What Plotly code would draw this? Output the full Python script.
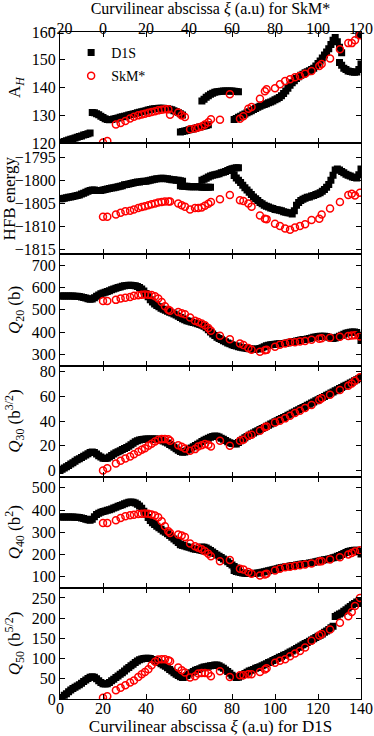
import plotly.graph_objects as go
from plotly.subplots import make_subplots


# =====================================================================
# 1. DATA
# =====================================================================

def grid(start, stop):
    """Integer abscissa samples from start to stop, both included."""
    return list(range(start, stop + 1))


# D1S abscissa for the panels where the path is one continuous band
XI_D1S = grid(0, 140)

# A_H for D1S -- the path breaks into pieces that overlap in xi
AH_D1S_X = (grid(0, 14) + grid(15, 57) + grid(56, 69) + grid(66, 83)
            + grid(81, 131) + grid(130, 140) + grid(139, 140))
AH_D1S = [
    120.0, 120.3, 120.6, 120.9, 121.1, 121.4, 121.6, 121.9, 122.1, 122.4, 122.6, 122.9, 123.1, 123.4, 123.7,
    131.0, 130.9, 130.6, 130.2, 129.7, 129.2, 128.8, 128.5, 128.4, 128.5, 128.7, 128.9, 129.1, 129.3, 129.5,
    129.7, 129.9, 130.1, 130.3, 130.5, 130.7, 130.9, 131.1, 131.3, 131.5, 131.7, 131.9, 132.1, 132.3, 132.4,
    132.5, 132.6, 132.6, 132.6, 132.5, 132.4, 132.2, 132.0, 131.7, 131.4, 131.0, 130.6, 130.1,
    124.0, 124.2, 124.4, 124.6, 124.8, 125.0, 125.2, 125.4, 125.6, 125.8, 126.0, 126.2, 126.4, 126.6,
    135.2, 135.8, 136.5, 137.1, 137.6, 138.0, 138.3, 138.5, 138.6, 138.7, 138.8, 138.8, 138.8, 138.8, 138.8,
    138.7, 138.6, 138.5,
    128.5, 128.9, 129.3, 129.7, 130.1, 130.5, 130.9, 131.3, 131.7, 132.1, 132.5, 132.9, 133.3, 133.6, 133.9,
    134.2, 134.5, 134.8, 135.2, 135.6, 136.0, 136.4, 137.1, 137.9, 138.8, 139.8, 140.8, 141.7, 142.5, 143.3,
    143.9, 144.4, 144.8, 145.3, 145.7, 146.1, 146.5, 147.0, 147.8, 148.7, 149.6, 150.6, 151.7, 152.8, 154.0,
    155.5, 157.0, 158.0, 156.5, 154.5, 152.5,
    149.0, 148.0, 147.0, 146.5, 146.0, 145.8, 145.6, 145.5, 145.6, 146.5, 148.5,
    159.0, 159.5,
]

HFB_D1S_X = grid(0, 57) + grid(56, 70) + grid(66, 83) + grid(81, 140)
HFB_D1S = [
    -1804.0, -1804.0, -1803.9, -1803.8, -1803.7, -1803.6, -1803.5, -1803.4, -1803.3, -1803.2,
    -1803.0, -1802.8, -1802.6, -1802.4, -1802.2, -1802.1, -1802.1, -1802.2, -1802.2, -1802.2,
    -1802.1, -1802.0, -1801.9, -1801.8, -1801.7, -1801.6, -1801.5, -1801.4, -1801.3, -1801.2,
    -1801.0, -1800.9, -1800.8, -1800.7, -1800.6, -1800.5, -1800.4, -1800.4, -1800.3, -1800.2,
    -1800.2, -1800.1, -1800.0, -1799.9, -1799.8, -1799.7, -1799.7, -1799.6, -1799.6, -1799.7,
    -1799.7, -1799.8, -1799.9, -1799.9, -1800.0, -1800.0, -1800.1, -1800.2,
    -1801.2, -1801.3, -1801.3, -1801.3, -1801.4, -1801.4, -1801.4, -1801.4, -1801.4, -1801.4,
    -1801.5, -1801.5, -1801.5, -1801.5, -1801.5,
    -1800.0, -1799.8, -1799.6, -1799.3, -1799.1, -1798.9, -1798.8, -1798.7, -1798.6, -1798.4,
    -1798.3, -1798.1, -1797.9, -1797.7, -1797.5, -1797.4, -1797.3, -1797.3,
    -1799.0, -1799.5, -1800.0, -1800.5, -1801.1, -1801.6, -1802.1, -1802.6, -1803.1, -1803.6,
    -1804.0, -1804.4, -1804.8, -1805.1, -1805.4, -1805.6, -1805.8, -1806.0, -1806.1, -1806.3,
    -1806.4, -1806.5, -1806.6, -1806.8, -1806.9, -1807.0, -1807.1, -1807.3, -1806.6, -1805.4,
    -1804.8, -1804.4, -1804.1, -1803.9, -1803.7, -1803.6, -1803.4, -1803.3, -1803.1, -1802.9,
    -1802.7, -1802.4, -1802.0, -1801.5, -1800.9, -1800.0, -1798.9, -1797.8, -1797.6, -1797.8,
    -1798.1, -1798.4, -1798.7, -1798.9, -1799.1, -1799.3, -1799.4, -1799.5, -1798.8, -1797.6,
]

Q20_D1S = [
    561, 561, 561, 561, 561, 561, 561, 560, 560, 559,
    557, 555, 552, 549, 547, 548, 553, 560, 566, 571,
    575, 578, 582, 585, 589, 593, 596, 599, 602, 605,
    607, 608, 609, 609, 608, 607, 604, 599, 593, 584,
    572, 558, 545, 534, 526, 519, 513, 507, 502, 497,
    493, 489, 485, 481, 476, 471, 465, 459, 455, 451,
    448, 445, 443, 440, 437, 434, 430, 426, 419, 410,
    400, 391, 384, 377, 371, 366, 361, 356, 351, 347,
    343, 340, 337, 334, 332, 330, 328, 326, 325, 324,
    323, 323, 324, 326, 330, 334, 338, 341, 343, 344,
    345, 346, 347, 348, 349, 350, 352, 354, 356, 358,
    360, 362, 364, 366, 367, 369, 371, 373, 376, 378,
    380, 381, 381, 381, 380, 377, 373, 371, 373, 377,
    381, 385, 390, 394, 397, 399, 400, 400, 398, 385,
    362,
]

Q30_D1S = [
    0.0, 1.0, 2.1, 3.1, 4.1, 5.2, 6.3, 7.5, 8.6, 9.6,
    10.6, 11.6, 12.6, 13.6, 14.5, 15.0, 14.6, 13.4, 12.0, 10.9,
    10.0, 9.7, 10.0, 11.0, 12.2, 13.3, 14.3, 15.2, 16.0, 16.9,
    17.8, 18.7, 19.7, 20.8, 22.0, 23.2, 24.1, 24.7, 25.1, 25.3,
    25.4, 25.5, 25.5, 25.5, 25.5, 25.4, 25.0, 24.4, 23.8, 23.1,
    22.2, 21.1, 20.0, 18.8, 17.6, 16.4, 15.3, 14.7, 14.9, 15.9,
    17.1, 18.2, 19.2, 20.2, 21.2, 22.3, 23.4, 24.4, 25.3, 26.2,
    27.0, 27.6, 27.9, 27.8, 27.2, 26.2, 25.2, 24.2, 23.2, 22.4,
    21.9, 21.6, 21.5, 22.6, 24.0, 25.3, 26.5, 27.6, 28.6, 29.5,
    30.4, 31.3, 32.2, 33.1, 34.0, 34.9, 35.8, 36.7, 37.6, 38.5,
    39.4, 40.3, 41.2, 42.0, 42.9, 43.8, 44.7, 45.6, 46.5, 47.4,
    48.3, 49.2, 50.1, 51.0, 51.9, 52.8, 53.7, 54.6, 55.5, 56.4,
    57.3, 58.2, 59.1, 60.0, 60.9, 61.8, 62.7, 63.6, 64.5, 65.4,
    66.3, 67.2, 68.1, 69.0, 69.9, 70.8, 71.7, 72.6, 73.5, 74.4,
    75.3,
]

Q40_D1S_X = grid(0, 57) + grid(56, 70) + grid(66, 83) + grid(81, 140)
Q40_D1S = [
    369, 369, 369, 369, 369, 369, 369, 368, 367, 366,
    364, 362, 359, 356, 354, 358, 370, 380, 386, 390,
    393, 396, 399, 401, 405, 409, 413, 417, 420, 424,
    428, 432, 435, 436, 435, 432, 426, 418, 408, 395,
    381, 366, 353, 343, 335, 327, 320, 313, 306, 300,
    293, 285, 278, 270, 262, 254, 246, 241,
    244, 241, 238, 235, 232, 229, 226, 224, 222, 220, 218, 216, 214, 212, 210,
    234, 232, 229, 224, 218, 211, 204, 198, 192, 186, 180, 174, 167, 160, 153, 146, 139, 133,
    128, 124, 121, 119, 117, 116, 115, 115, 115, 115,
    116, 117, 118, 120, 122, 125, 127, 129, 131, 134,
    136, 139, 141, 143, 145, 146, 148, 150, 151, 153,
    154, 156, 157, 159, 160, 162, 163, 165, 167, 170,
    172, 174, 176, 178, 180, 182, 185, 188, 192, 196,
    200, 205, 209, 213, 216, 218, 219, 219, 214, 202,
]

Q50_D1S = [
    0, 4, 9, 13, 18, 22, 26, 29, 32, 35,
    39, 43, 47, 51, 54, 55, 54, 50, 45, 41,
    38, 37, 38, 41, 45, 49, 53, 57, 61, 65,
    69, 74, 78, 82, 86, 90, 94, 97, 99, 100,
    101, 101, 100, 98, 96, 93, 90, 87, 84, 81,
    77, 73, 69, 65, 61, 58, 55, 53, 54, 58,
    62, 65, 68, 71, 73, 75, 77, 79, 80, 81,
    82, 83, 84, 84, 82, 79, 76, 72, 68, 64,
    59, 55, 53, 54, 57, 60, 63, 66, 69, 71,
    73, 76, 78, 80, 82, 85, 87, 90, 92, 95,
    98, 100, 103, 105, 108, 110, 113, 116, 119, 122,
    125, 128, 131, 134, 137, 140, 143, 146, 149, 152,
    155, 158, 161, 165, 168, 172, 176, 180, 204, 207,
    210, 213, 217, 221, 225, 229, 233, 236, 240, 242,
    236,
]

# SkM* points, abscissa on the top (SkM*) scale
SKM_OFFSET = 20  # top-axis -20 sits over bottom-axis 0
RED_XI_SKM = [
    0, 2, 6, 8.2, 10.4, 12.6, 14.4, 16.4, 18, 19.5,
    21.1, 22.6, 24.2, 25.7, 27.3, 28.8, 30.4, 31.2, 35, 36.6,
    38.1, 40.5, 42.8, 44.3, 45.9, 47.4, 49, 50.2, 54.4, 59,
    63.7, 65.3, 67.6, 69.1, 73, 75.3, 76.1, 80, 82.3, 84.7,
    87, 89.3, 91.6, 94, 97, 100.6, 101.7, 105.6, 110.2, 114.1,
    115.7, 117.2, 119.5,
]
AH_SKM = [
    120.2, 120.8, 126.7, 127.3, 128.0, 128.9, 129.5, 130.0, 130.3, 130.6,
    130.9, 131.2, 131.5, 131.8, 132.0, 132.2, 132.2, 130.2, 131.0, 130.0,
    129.4, 125.0, 125.3, 125.6, 126.0, 126.7, 127.5, 128.6, 128.4, 137.6,
    128.8, 129.7, 132.4, 133.0, 136.0, 138.7, 139.4, 139.8, 141.2, 142.4,
    143.0, 143.7, 144.2, 145.0, 146.0, 147.8, 148.5, 150.5, 153.8, 156.0,
    156.0, 157.0, 158.8,
]
HFB_SKM = [
    -1807.9, -1807.9, -1807.4, -1807.0, -1806.7, -1806.6, -1806.3, -1806.0, -1805.8, -1805.6,
    -1805.4, -1805.2, -1805.0, -1804.8, -1804.7, -1804.6, -1804.6, -1804.6, -1805.0, -1805.4,
    -1805.7, -1806.3, -1806.0, -1806.0, -1805.9, -1805.5, -1805.1, -1804.7, -1804.1, -1803.2,
    -1804.3, -1804.5, -1805.0, -1805.7, -1807.6, -1808.3, -1808.4, -1809.4, -1809.9, -1810.4,
    -1810.7, -1810.2, -1809.9, -1809.5, -1808.6, -1808.3, -1807.4, -1806.1, -1804.7, -1803.2,
    -1802.9, -1803.3, -1802.7,
]
Q20_SKM = [
    539, 539, 544, 550, 554, 557, 562, 565, 567, 568,
    567, 566, 560, 550, 535, 515, 500, 495, 490, 484,
    480, 465, 450, 445, 438, 430, 418, 406, 383, 368,
    349, 342, 328, 321, 312, 318, 320, 334, 343, 349,
    354, 354, 357, 360, 365, 370, 372, 374, 379, 382,
    384, 386, 380,
]
Q30_SKM = [
    0.0, 1.9, 5.7, 7.8, 9.7, 11.4, 13.2, 15.1, 16.8, 18.1,
    20.0, 21.6, 23.5, 24.9, 25.4, 25.4, 25.2, 24.0, 20.5, 19.2,
    17.8, 15.9, 17.3, 19.5, 20.5, 21.4, 20.8, 19.5, 24.0, 20.0,
    24.0, 24.9, 28.1, 28.9, 32.2, 35.0, 35.7, 38.9, 40.3, 42.2,
    44.3, 46.5, 48.4, 50.5, 53.0, 57.0, 58.4, 61.4, 65.1, 68.6,
    70.5, 72.7, 75.5,
]
Q40_SKM = [
    342, 342, 354, 364, 372, 376, 379, 382, 383, 384,
    383, 380, 375, 367, 349, 327, 305, 297, 290, 285,
    279, 249, 237, 230, 224, 215, 203, 192, 170, 175,
    136, 133, 121, 113, 106, 110, 113, 128, 136, 143,
    145, 148, 152, 155, 160, 168, 170, 178, 188, 200,
    207, 213, 219,
]
Q50_SKM = [
    3.3, 6.6, 21.5, 28.0, 34.0, 40.6, 46.0, 54.6, 61.0, 67.0,
    73.7, 83.6, 92.0, 97.7, 98.5, 98.5, 96.0, 93.5, 78.0, 71.0,
    65.4, 53.0, 56.0, 63.0, 64.6, 64.6, 63.0, 56.0, 68.7, 54.6,
    58.8, 59.0, 61.0, 61.0, 67.0, 73.0, 76.0, 89.4, 94.4, 98.5,
    106.0, 112.6, 119.0, 127.5, 144.0, 157.0, 160.6, 172.0, 188.7, 205.0,
    215.0, 230.0, 250.0,
]

# panel titles, y ranges and y tick values (top to bottom)
Y_TITLES = [
    "A<sub><i>H</i></sub>",
    "HFB energy",
    "<i>Q</i><sub>20</sub> (b)",
    "<i>Q</i><sub>30</sub> (b<sup>3/2</sup>)",
    "<i>Q</i><sub>40</sub> (b<sup>2</sup>)",
    "<i>Q</i><sub>50</sub> (b<sup>5/2</sup>)",
]
Y_RANGES = [[120, 160], [-1816, -1792], [250, 748], [-5, 85], [50, 550], [0, 275]]
Y_TICKS = [
    [120, 130, 140, 150, 160],
    [-1815, -1810, -1805, -1800, -1795],
    [300, 400, 500, 600, 700],
    [0, 20, 40, 60, 80],
    [100, 200, 300, 400, 500],
    [0, 50, 100, 150, 200, 250],
]
X_TICKS_D1S = [0, 20, 40, 60, 80, 100, 120, 140]
X_TICKS_SKM = [-20, 0, 20, 40, 60, 80, 100, 120]

FONT = "Liberation Serif"
RED = "#ff0000"


# =====================================================================
# 2. FIGURE
# =====================================================================

def axis_style():
    """Boxed axes with inward ticks on every side."""
    return dict(
        showline=True, linecolor="black", linewidth=1, mirror="ticks",
        ticks="inside", ticklen=5, tickcolor="black", tickwidth=1,
        showgrid=False, zeroline=False, automargin=False,
        tickfont=dict(family=FONT, size=16, color="black"),
    )


def title_font(size=17):
    return dict(family=FONT, size=size, color="black")


def build_figure() -> go.Figure:
    fig = make_subplots(rows=6, cols=1, shared_xaxes=True, vertical_spacing=0)

    d1s_x = [AH_D1S_X, HFB_D1S_X, XI_D1S, XI_D1S, Q40_D1S_X, XI_D1S]
    d1s_y = [AH_D1S, HFB_D1S, Q20_D1S, Q30_D1S, Q40_D1S, Q50_D1S]
    skm_y = [AH_SKM, HFB_SKM, Q20_SKM, Q30_SKM, Q40_SKM, Q50_SKM]
    # lower panels have no SkM* axis of their own: move onto the D1S scale
    red_x_shifted = [xi + SKM_OFFSET for xi in RED_XI_SKM]
    # gap between tick labels and y title, so that the titles line up as in the original
    standoffs = [6, 0, 6, 14, 6, 6]

    for i in range(6):
        row = i + 1
        if len(d1s_x[i]) != len(d1s_y[i]) or len(skm_y[i]) != len(RED_XI_SKM):
            raise ValueError(f"length mismatch in panel {row}")
        fig.add_trace(go.Scatter(
            x=d1s_x[i], y=d1s_y[i], mode="markers", name="D1S",
            legendgroup="d1s", showlegend=(row == 1),
            marker=dict(symbol="square", size=7, color="black"),
        ), row=row, col=1)
        red = go.Scatter(
            y=skm_y[i], mode="markers", name="SkM*",
            legendgroup="skm", showlegend=(row == 1),
            marker=dict(symbol="circle-open", size=7, color=RED, line=dict(width=1.5)),
        )
        if row == 1:
            # top panel: plotted on the SkM* axis drawn along the top
            red.update(x=RED_XI_SKM, xaxis="x7", yaxis="y")
            fig.add_trace(red)
        else:
            red.update(x=red_x_shifted)
            fig.add_trace(red, row=row, col=1)
        fig.update_yaxes(
            range=Y_RANGES[i], tickvals=Y_TICKS[i],
            title=dict(text=Y_TITLES[i], standoff=standoffs[i], font=title_font()),
            row=row, col=1,
        )

    fig.update_xaxes(range=[0, 140], tickvals=X_TICKS_D1S, **axis_style())
    fig.update_yaxes(**axis_style())
    fig.update_xaxes(
        ticklabelstandoff=-5,
        title=dict(text="Curvilinear abscissa <i>ξ</i> (a.u) for D1S", standoff=15,
                   font=title_font()),
        row=6, col=1,
    )

    top = axis_style()
    top.update(showline=False, mirror=False)
    fig.update_layout(
        xaxis7=dict(
            overlaying="x", anchor="y", side="top",
            range=[-20, 120], tickvals=X_TICKS_SKM, ticklabelstandoff=-6,
            title=dict(text="Curvilinear abscissa <i>ξ</i> (a.u) for SkM*", standoff=12,
                       font=title_font(16)),
            **top,
        ),
        template="none",
        width=374, height=736,
        margin=dict(l=60, r=13, t=32, b=37),
        paper_bgcolor="white", plot_bgcolor="white",
        font=dict(family=FONT, size=16, color="black"),
        legend=dict(
            x=0.037, y=0.9925, xanchor="left", yanchor="top",
            font=dict(family=FONT, size=14, color="black"),
            bgcolor="rgba(0,0,0,0)", itemwidth=30,
            traceorder="grouped", tracegroupgap=2,
        ),
        showlegend=True,
    )
    return fig


if __name__ == "__main__":
    fig = build_figure()
    # drop the page's default 8 px body margin so the figure fills the window
    fig.write_html(
        "out.html",
        config={"displayModeBar": False},
        post_script="document.body.style.margin = '0';",
    )
